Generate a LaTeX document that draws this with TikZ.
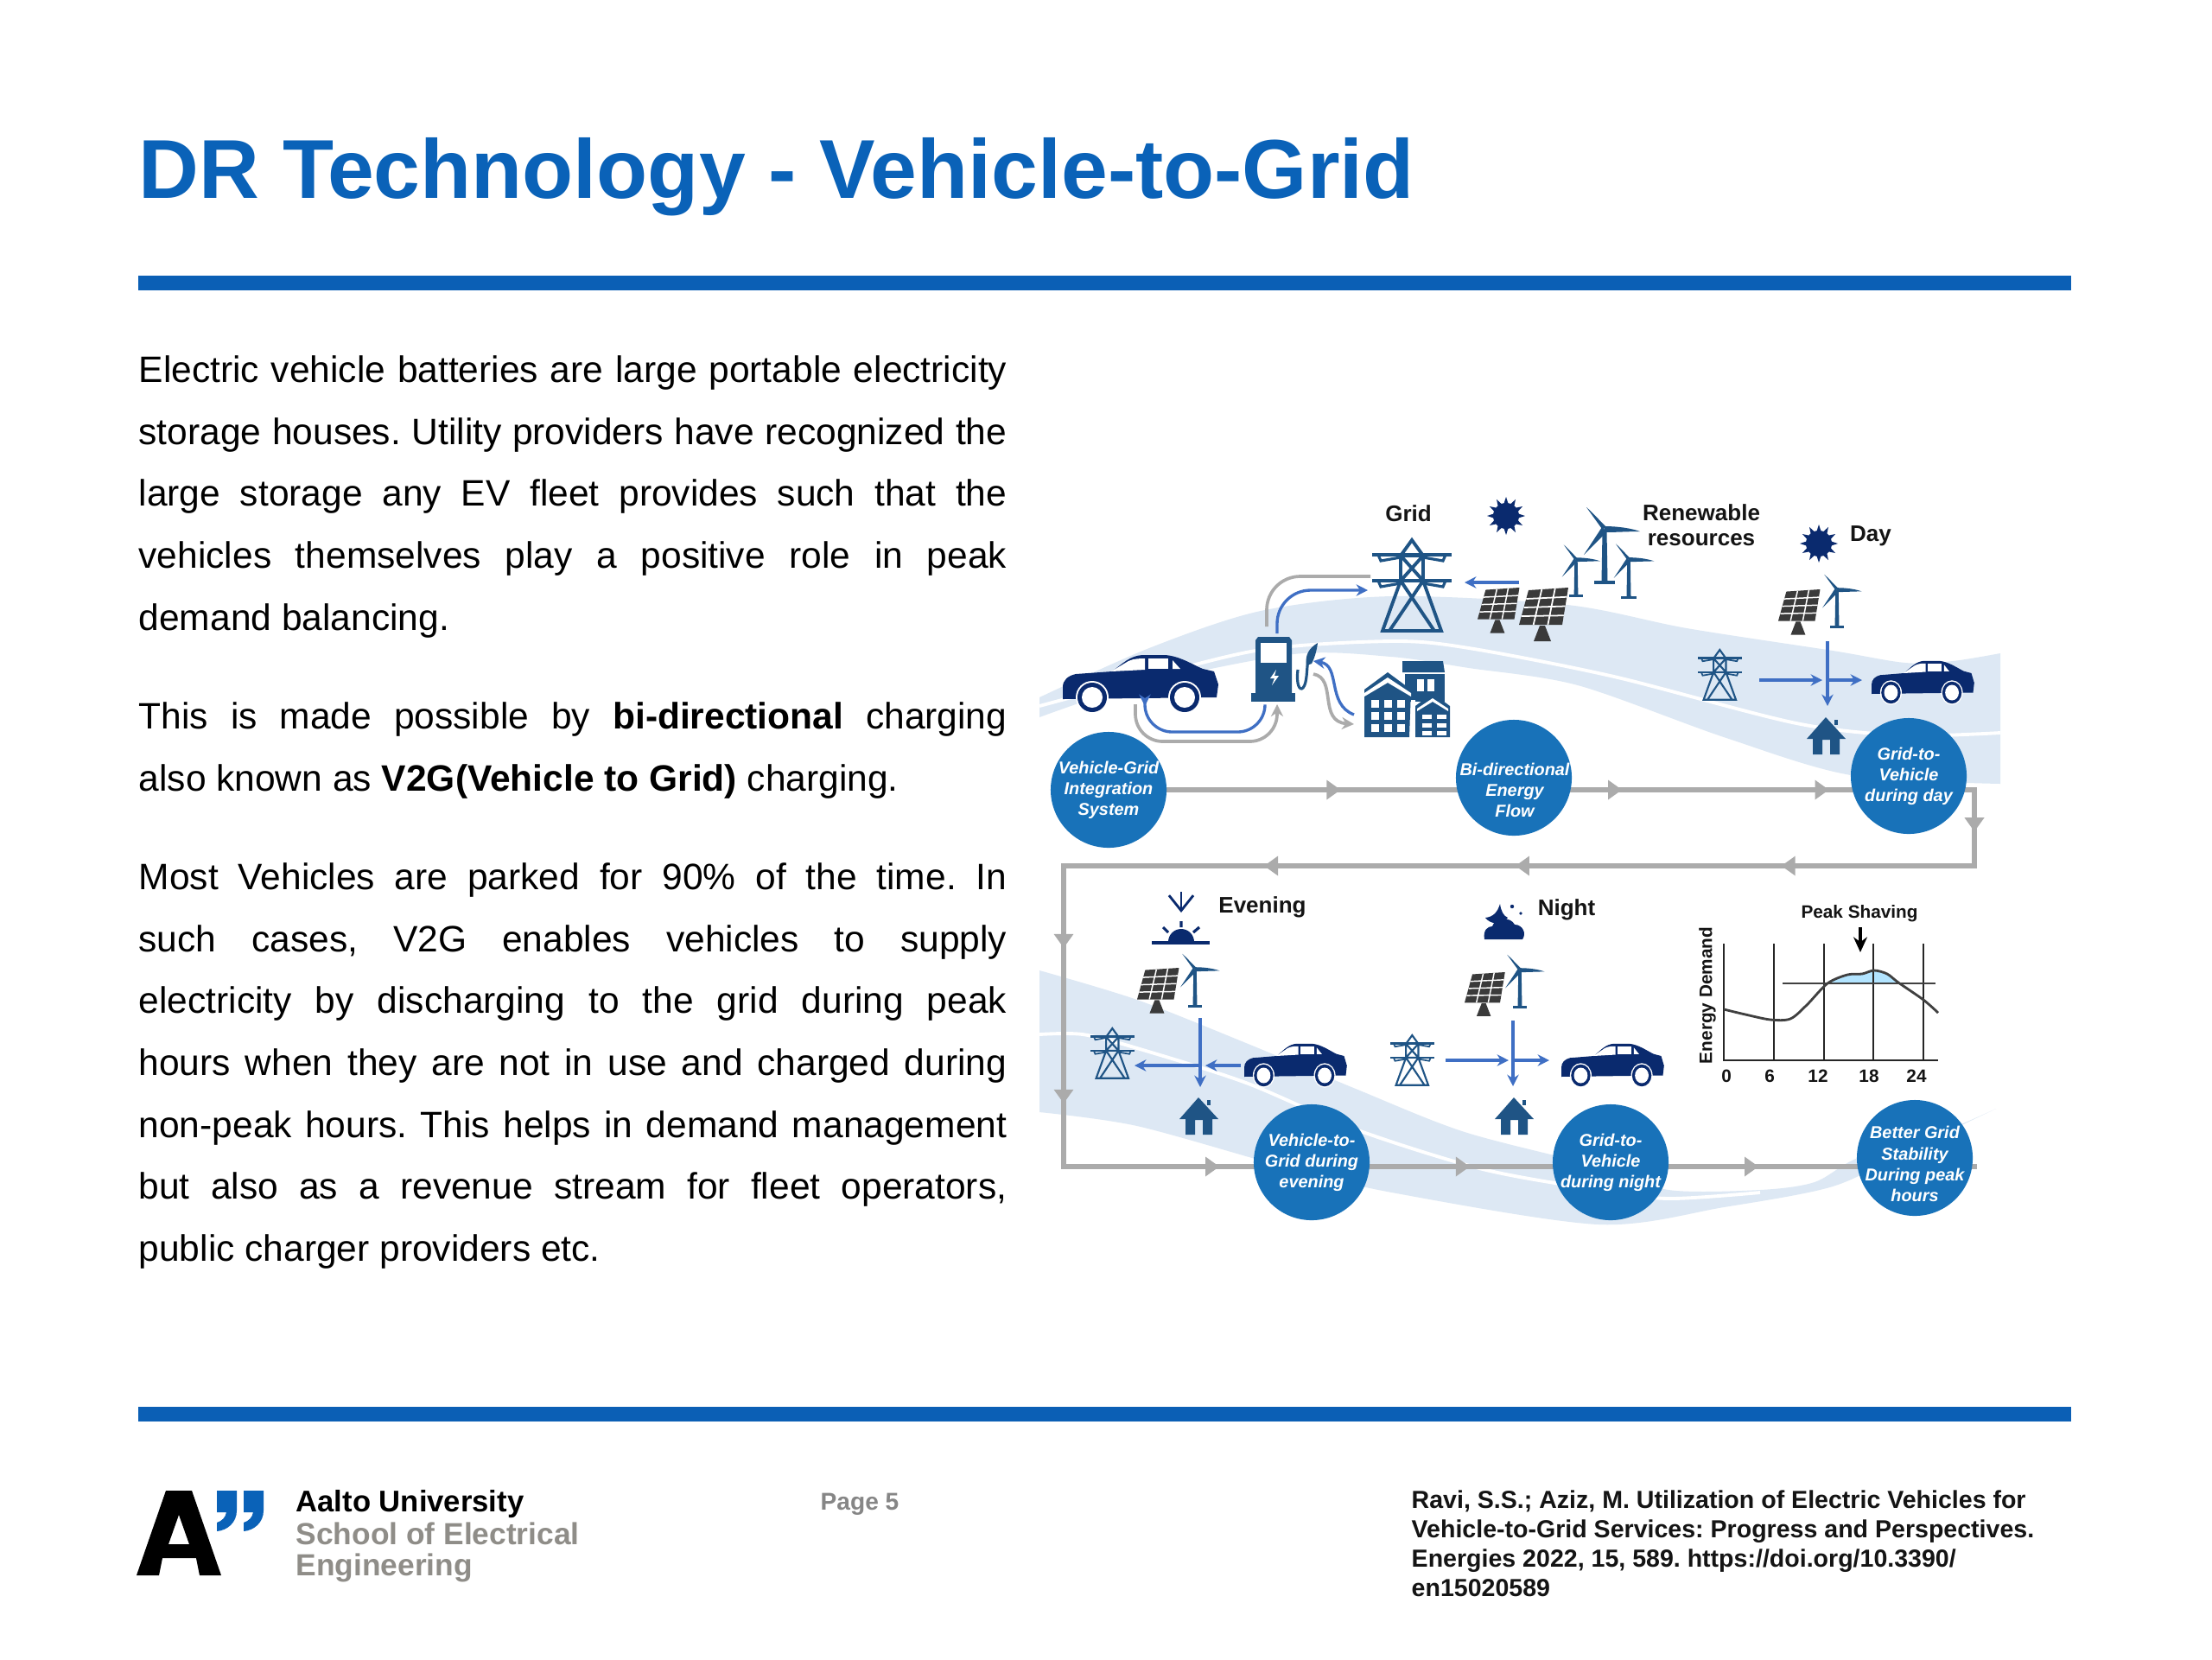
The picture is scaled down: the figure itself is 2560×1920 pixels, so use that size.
\documentclass[tikz,border=0pt]{standalone}
\usepackage{fontspec}
\setmainfont{Liberation Sans}
\usetikzlibrary{arrows.meta,decorations.markings,backgrounds}
\definecolor{titleblue}{HTML}{0A62B8}
\definecolor{rulecol}{HTML}{0B5FB5}
\definecolor{band}{HTML}{DDE8F4}
\definecolor{circ}{HTML}{1872B9}
\definecolor{navy}{HTML}{0A2A6E}
\definecolor{steel}{HTML}{1F5485}
\definecolor{panelc}{HTML}{3A3A3A}
\definecolor{flow}{HTML}{3F6FC4}
\definecolor{gline}{HTML}{ABABAB}
\definecolor{softgray}{HTML}{8F8D88}
\definecolor{ink}{HTML}{141414}
\tikzset{
 x=0.01cm,y=-0.01cm,
 stepfont/.style={font=\fontsize{5.65pt}{6.85pt}\selectfont\bfseries\itshape},
 stepc/.style={circle,fill=circ,text=white,minimum size=1.34cm,inner sep=-20pt,align=center,stepfont},
 stepdisc/.style={circle,fill=circ,minimum size=1.34cm,inner sep=0pt},
 steptxt/.style={inner sep=0pt,text=white,align=center,stepfont},
 lab/.style={inner sep=0pt,text=ink,font=\fontsize{7.4pt}{9pt}\selectfont\bfseries},
 para/.style={inner sep=0pt,anchor=north west,text width=10.04cm,align=justify,text=black,
   font=\fontsize{12.09pt}{20.38pt}\selectfont\frenchspacing},
 gl/.style={draw=gline,line width=1.6pt,line cap=rect},
 gtip/.style={postaction={decorate,decoration={markings,mark=at position #1 with {\arrow[draw=gline,fill=gline]{Triangle[length=4.6pt,width=6.2pt]}}}}},
 fl/.style={draw=flow,line width=.95pt,-{Stealth[length=3.8pt,width=3.8pt]}},
 gra/.style={draw=gline,line width=1.05pt},
 blab/.style={inner sep=0pt,text=ink,font=\fontsize{5.9pt}{7pt}\selectfont\bfseries},
}
\newcommand\carIcon[3]{\begin{scope}[shift={(#1,#2)},scale=#3,yscale={1+(1-#3)*0.4}]
 \fill[navy] (0,38) .. controls (0,30) and (6,25) .. (15,23) -- (57,20) .. controls (70,10) and (78,2) .. (92,1) -- (118,1) .. controls (135,2) and (150,12) .. (162,17) -- (175,20) -- (180,35) -- (178,50) -- (0,52) -- cycle;
 \fill[white] (56,20) -- (76,8) .. controls (82,5) and (90,5) .. (95,5) -- (95,18) -- cycle;
 \fill[white] (99,5) -- (122,5) -- (122,17) -- (99,17) -- cycle;
 \fill[white] (127,7) -- (136,17) -- (127,17) -- cycle;
 \foreach \cx in {34,141}{
  \fill[white] (\cx,50) circle[radius=19];
  \fill[navy] (\cx,50) circle[radius=17];
  \fill[white] (\cx,50) circle[radius=12];
 }
\end{scope}}
\newcommand\towerIcon[3]{\begin{scope}[shift={(#1,#2)},scale=#3]
 \draw[steel,line width={#3*1.1pt},line join=miter]
  (12,105) -- (33,47) -- (33,18) -- (46,0) -- (59,18) -- (59,47) -- (80,105) -- cycle
  (33,18) -- (59,47) (59,18) -- (33,47)
  (33,47) -- (72,105) (59,47) -- (20,105) (33,47) -- (59,47) (33,18) -- (59,18);
 \draw[steel,line width={#3*1.3pt}] (0,17) -- (92,17) (0,47) -- (92,47);
 \draw[steel,line width={#3*0.9pt}] (7,17) -- (10,24) -- (33,20) (85,17) -- (82,24) -- (59,20)
  (7,47) -- (10,54) -- (33,50) (85,47) -- (82,54) -- (59,50);
\end{scope}}
\newcommand\panelIcon[3]{\begin{scope}[shift={(#1,#2)},scale=#3]
 \fill[panelc] (11,3) -- (57,0) -- (50,43) -- (0,43) -- cycle;
 \fill[panelc] (24,44) -- (30,44) -- (37,62) -- (17,62) -- cycle;
 \draw[white,line width={#3*0.5pt}]
  ({11+46*.333},{3-3*.333}) -- ({50*.333},43) ({11+46*.667},{3-3*.667}) -- ({50*.667},43)
  ({11-11*.25},{3+40*.25}) -- ({57-7*.25},{43*.25}) ({11-11*.5},{3+40*.5}) -- ({57-7*.5},{43*.5})
  ({11-11*.75},{3+40*.75}) -- ({57-7*.75},{43*.75});
\end{scope}}
\newcommand\turbineIcon[3]{\begin{scope}[shift={(#1,#2)},scale=#3]
 \fill[steel] (-3,-1) -- (-21,-26) .. controls (-14,-20) and (-7,-12) .. (3,-2) -- cycle;
 \fill[steel] (0,-4) .. controls (14,-4) and (30,-2) .. (41,2) .. controls (28,2) and (12,3) .. (0,3) -- cycle;
 \fill[steel] (-3,-3) -- (3,2) -- (-8,13) -- (-24,29) -- cycle;
 \fill[steel] (-2.5,2) -- (2.5,2) -- (3.5,60) -- (-3.5,60) -- cycle;
 \fill[steel] (-12,59) rectangle (12,63);
\end{scope}}
\newcommand\sunIcon[2]{\begin{scope}[shift={(#1,#2)}]
 \fill[navy] (0,0) circle[radius=15];
 \foreach \a in {0,30,...,330}{
  \fill[navy] ({\a-11}:14) -- (\a:22) -- ({\a+11}:14) -- cycle;
 }
\end{scope}}
\newcommand\houseIcon[2]{\begin{scope}[shift={(#1,#2)}]
 \fill[steel] (22,0) -- (45,25) -- (38,25) -- (38,43) -- (27,43) -- (27,26) -- (18,26) -- (18,43) -- (7,43) -- (7,25) -- (0,25) -- cycle;
 \fill[steel] (32,3) rectangle (36,9);
\end{scope}}
\begin{document}
\begin{tikzpicture}
\useasboundingbox (0,0) rectangle (2560,1920);
% ---------- header, rules, body
\node[inner sep=0pt,anchor=base west,text=titleblue,font=\fontsize{27.5pt}{30pt}\selectfont\bfseries] (title) at (160,229) {DR Technology - Vehicle-to-Grid};
\fill[rulecol] (160,319) rectangle (2397,336);
\fill[rulecol] (160,1628) rectangle (2397,1645);
\node[para] (p1) at (160,411) {Electric vehicle batteries are large portable electricity\linebreak storage houses. Utility providers have recognized the\linebreak large storage any EV fleet provides such that the\linebreak vehicles themselves play a positive role in peak\linebreak demand balancing.};
\node[para] (p2) at (160,812) {This is made possible by \textbf{bi-directional} charging\linebreak also known as \textbf{V2G(Vehicle to Grid)} charging.};
\node[para] (p3) at (160,998) {Most Vehicles are parked for 90\% of the time. In\linebreak such cases, V2G enables vehicles to supply\linebreak electricity by discharging to the grid during peak\linebreak hours when they are not in use and charged during\linebreak non-peak hours. This helps in demand management\linebreak but also as a revenue stream for fleet operators,\linebreak public charger providers etc.};
% ---------- step circles
\node[stepc] (c1) at (1283,914) {Vehicle-Grid\\Integration\\System};
\node[stepdisc] (c2) at (1752,900) {};
\node[steptxt] (c2t) at (1753,914) {Bi-directional\\Energy\\Flow};
\node[stepc] (c3) at (2209,898) {Grid-to-\\Vehicle\\during day};
\node[stepc] (c4) at (1518,1345) {Vehicle-to-\\Grid during\\evening};
\node[stepc] (c5) at (1864,1345) {Grid-to-\\Vehicle\\during night};
\node[stepdisc] (c6) at (2216,1340) {};
\node[steptxt] (c6t) at (2216,1347) {Better Grid\\Stability\\During peak\\hours};
\coordinate (k1) at (2285,914);
\coordinate (k2) at (2285,1002);
\coordinate (k3) at (1231,1002);
\coordinate (k4) at (1231,1350);
\coordinate (k5) at (2285,1350);
\begin{scope}[on background layer]
 \fill[white] (0,0) rectangle (2560,1920);
 % bands
 \fill[band] plot[smooth] coordinates {(1203,807) (1330,750) (1459,707) (1611,690) (1814,700) (1952,727) (2121,753) (2205,767) (2260,765) (2315,756)}
   -- plot[smooth] coordinates {(2315,907) (2142,897) (1995,853) (1826,793) (1700,773) (1610,760) (1497,757) (1316,793) (1203,830)} -- cycle;
 \draw[white,line width=1.1pt] plot[smooth] coordinates {(1203,817) (1316,787) (1459,752) (1611,742) (1700,750) (1868,783) (2079,837) (2205,851) (2315,848)};
 \fill[band] plot[smooth] coordinates {(1203,1123) (1316,1157) (1442,1207) (1569,1260) (1695,1310) (1850,1350) (1931,1377) (2037,1377) (2100,1368) (2150,1340) (2247,1310) (2310,1283)}
   -- plot[smooth] coordinates {(2310,1283) (2205,1333) (2121,1373) (1995,1397) (1850,1417) (1611,1380) (1485,1350) (1316,1303) (1203,1287)} -- cycle;
 \draw[white,line width=1.1pt] plot[smooth] coordinates {(1203,1197) (1253,1197) (1316,1213) (1442,1253) (1569,1307) (1716,1353) (1850,1377) (1931,1387) (2037,1380)};
 % gray cycle
 \draw[gl,gtip=.268,gtip=.593,gtip=.832] (c1.center) -- (k1);
 \draw[gl,gtip=.55] (k1) -- (k2);
 \draw[gl,gtip=.212,gtip=.504,gtip=.78] (k2) -- (k3);
 \draw[gl,gtip=.273,gtip=.79] (k3) -- (k4);
 \draw[gl,gtip=.171,gtip=.446,gtip=.763] (k4) -- (k5);
\end{scope}
% ---------- top-left scene
\carIcon{1230}{757}{1}
\towerIcon{1588}{625}{1}
\panelIcon{1710}{680}{.85}
\panelIcon{1758}{680}{1}
\turbineIcon{1857}{613}{1}
\turbineIcon{1824}{648}{.68}
\turbineIcon{1885}{648}{.72}
\sunIcon{1743}{597}
% charger
\fill[steel] (1456,737) -- (1492,737) -- (1495,741) -- (1495,803) -- (1453,803) -- (1453,741) -- cycle;
\fill[steel] (1448,802) rectangle (1499,812);
\fill[white] (1459,744) rectangle (1489,767);
\fill[white] (1477,775) -- (1470,785) -- (1475,785) -- (1472,793) -- (1480,782) -- (1475,782) -- cycle;
\draw[steel,line width=.9pt] (1502,775) .. controls (1500,792) and (1504,800) .. (1508,796) .. controls (1513,790) and (1512,775) .. (1514,762);
\fill[steel] (1512,770) .. controls (1510,758) and (1515,750) .. (1525,744) .. controls (1524,752) and (1522,760) .. (1518,768) -- cycle;
% buildings
\fill[steel] (1623,778) -- (1623,765) -- (1630,765) -- (1670,765) -- (1672,778) -- cycle;
\fill[steel] (1626,780) rectangle (1672,812);
\fill[white] (1640,786) rectangle (1648,800);
\fill[white] (1652,786) rectangle (1660,800);
\fill[steel] (1579,798) -- (1606,778) -- (1633,798) -- (1631,853) -- (1579,853) -- cycle;
\fill[white] (1579,802) -- (1606,784) -- (1633,802) -- (1633,806) -- (1606,790) -- (1579,806) -- cycle;
\foreach \wy in {810,824,838}{\foreach \wx in {1587,1602,1617}{
  \fill[white] (\wx,\wy) rectangle ++(9,9);}}
\fill[white] (1633,810) rectangle (1638,856);
\fill[steel] (1638,817) -- (1658,802) -- (1678,817) -- (1678,853) -- (1638,853) -- cycle;
\fill[white] (1640,820) -- (1658,808) -- (1676,820) -- (1676,823) -- (1658,812) -- (1640,823) -- cycle;
\foreach \wy in {827,837,846}{\foreach \wx in {1646,1663}{
  \fill[white] (\wx,\wy) rectangle ++(11,5);}}
% flows top-left
\coordinate (chgB) at (1478,733); \coordinate (twB) at (1583,683);
\coordinate (chgG) at (1466,725); \coordinate (twG) at (1586,667);
\coordinate (renE) at (1758,674); \coordinate (twE) at (1695,674);
\coordinate (chB2) at (1464,817); \coordinate (carB) at (1325,817);
\coordinate (carG) at (1314,815); \coordinate (chG2) at (1478,815);
\coordinate (bldB) at (1567,827); \coordinate (hoseB) at (1520,765);
\coordinate (hoseG) at (1520,780); \coordinate (bldG) at (1567,838);
\coordinate (bmB) at (1325,847); \coordinate (bmB2) at (1464,847);
\coordinate (bmG) at (1314,858); \coordinate (bmG2) at (1478,858);
\draw[gra,rounded corners=11pt] (chgG) |- (twG);
\draw[fl,rounded corners=11pt] (chgB) |- (twB);
\draw[fl] (renE) -- (twE);
\draw[gra,-{Stealth[length=4pt,width=4pt]},rounded corners=9pt] (carG) -- (bmG) -- (bmG2) -- (chG2);
\draw[fl,rounded corners=9pt] (chB2) -- (bmB2) -- (bmB) -- (carB);
\draw[fl] (bldB) .. controls (1535,815) and (1552,770) .. (hoseB);
\draw[gra,-{Stealth[length=4pt,width=4pt]}] (hoseG) .. controls (1548,785) and (1525,835) .. (bldG);
% ---------- day
\sunIcon{2105}{629}
\panelIcon{2058}{682}{.85}
\turbineIcon{2126}{683}{.7}
\towerIcon{1965}{752}{.55}
\carIcon{2166}{764}{.66}
\houseIcon{2091}{830}
\coordinate (dW) at (2036,787); \coordinate (dM) at (2109,787); \coordinate (dE) at (2155,787);
\coordinate (dN) at (2115,742); \coordinate (dS) at (2115,817); \coordinate (dC) at (2116,787);
\draw[fl] (dW) -- (dM); \draw[fl] (dC) -- (dE); \draw[fl] (dN) -- (dS);
% ---------- evening
\panelIcon{1316}{1120}{.85}
\turbineIcon{1383}{1122}{.7}
\towerIcon{1262}{1190}{.55}
\carIcon{1440}{1207}{.66}
\houseIcon{1365}{1270}
\fill[navy] (1352,1090) arc[start angle=180,end angle=360,radius=15] -- cycle;
\draw[navy,line width=.9pt] (1333,1091) -- (1400,1091);
\draw[navy,line width=.9pt] (1367,1066) -- (1367,1073) (1346,1073) -- (1352,1079) (1388,1073) -- (1381,1079);
\coordinate (sunTop) at (1367,1032); \coordinate (sunDn) at (1367,1056);
\draw[navy,line width=.8pt,-{Straight Barb[length=5pt,width=8pt]}] (sunTop) -- (sunDn);
\coordinate (eN) at (1389,1178); \coordinate (eS) at (1389,1258);
\coordinate (eCar) at (1436,1233); \coordinate (eMid) at (1395,1233);
\coordinate (eC) at (1388,1233); \coordinate (eW) at (1313,1233);
\draw[fl,line width=1.3pt] (eN) -- (eS);
\draw[fl,line width=1.3pt] (eCar) -- (eMid);
\draw[fl,line width=1.3pt] (eC) -- (eW);
% ---------- night
\fill[navy] (1718,1087) .. controls (1716,1076) and (1722,1072) .. (1727,1072) .. controls (1730,1062) and (1748,1060) .. (1753,1070) .. controls (1762,1070) and (1767,1080) .. (1762,1087) -- cycle;
\fill[navy] (1736,1046) .. controls (1733,1056) and (1728,1061) .. (1719,1062) .. controls (1725,1070) and (1738,1071) .. (1745,1062) .. controls (1740,1060) and (1737,1054) .. (1736,1046) -- cycle;
\fill[navy] (1750,1049) circle[radius=2.2] (1760,1057) circle[radius=1.8];
\panelIcon{1695}{1125}{.82}
\turbineIcon{1759}{1123}{.7}
\towerIcon{1609}{1198}{.55}
\carIcon{1807}{1207}{.66}
\houseIcon{1730}{1270}
\coordinate (nW) at (1673,1227); \coordinate (nM) at (1746,1227); \coordinate (nC) at (1752,1227); \coordinate (nE) at (1793,1227);
\coordinate (nN) at (1751,1181); \coordinate (nS) at (1751,1257);
\draw[fl] (nW) -- (nM); \draw[fl] (nC) -- (nE); \draw[fl] (nN) -- (nS);
% ---------- chart
\fill[blue!35!cyan!30!white] plot[smooth] coordinates {(2115,1138) (2138,1128) (2155,1127) (2169,1123) (2184,1127) (2197,1137)} -- cycle;
\draw[black!85,line width=.8pt] (1995,1092) -- (1995,1227) -- (2243,1227)
  (2053,1092) -- (2053,1227) (2111,1092) -- (2111,1227) (2168,1092) -- (2168,1227) (2226,1092) -- (2226,1227);
\draw[black!75,line width=.8pt] (2063,1138) -- (2240,1138);
\draw[black!75,line width=.8pt] plot[smooth] coordinates {(1995,1168) (2020,1174) (2049,1180) (2072,1179) (2091,1163) (2115,1138) (2138,1128) (2155,1127) (2169,1123) (2184,1127) (2197,1137) (2226,1157) (2243,1172)};
\coordinate (pkA) at (2153,1073); \coordinate (pkB) at (2153,1102);
\draw[black,line width=.9pt,-{Stealth[length=5pt,width=4.5pt]}] (pkA) -- (pkB);
\node[blab] (peak) at (2152,1057) {Peak Shaving};
\node[blab,rotate=90] (yl) at (1976,1152) {Energy Demand};
\foreach \tx/\tl in {1998/0,2048/6,2104/12,2163/18,2218/24}{
 \node[blab] (t\tl) at (\tx,1245) {\tl};}
% ---------- labels
\node[lab] (gridl) at (1630,594) {Grid};
\node[lab] (ren1) at (1969,593) {Renewable};
\node[lab] (ren2) at (1969,625) {resources};
\node[lab] (day) at (2165,620) {Day};
\node[lab] (eve) at (1461,1050) {Evening};
\node[lab] (nig) at (1813,1053) {Night};
% ---------- footer
\fill[black] (192,1725) -- (222,1725) -- (256,1823) -- (231,1823) -- (227,1803) -- (188,1803) -- (184,1823) -- (158,1823) -- cycle
  (207,1753) -- (195,1787) -- (219,1787) -- cycle;
\foreach \qx in {251,282}{
 \fill[titleblue] (\qx,1725) -- ({\qx+23},1725) -- ({\qx+23},1748) .. controls ({\qx+23},1762) and ({\qx+12},1771) .. (\qx,1772) -- (\qx,1762) .. controls ({\qx+6},1760) and ({\qx+10},1756) .. ({\qx+11},1750) -- (\qx,1750) -- cycle;}
\node[inner sep=0pt,anchor=west,text=black,font=\fontsize{9.85pt}{11pt}\selectfont\bfseries] (au) at (342,1741) {Aalto University};
\node[inner sep=0pt,anchor=west,text=softgray,font=\fontsize{10.05pt}{11pt}\selectfont\bfseries] (se) at (342,1775) {School of Electrical};
\node[inner sep=0pt,anchor=west,text=softgray,font=\fontsize{10.05pt}{11pt}\selectfont\bfseries] (en) at (342,1814) {Engineering};
\node[inner sep=0pt,text=gray!95,font=\fontsize{8pt}{10pt}\selectfont\bfseries] (pg) at (995,1741) {Page 5};
\node[inner sep=0pt,anchor=north west,align=left,text=ink,font=\fontsize{8.12pt}{9.67pt}\selectfont\bfseries\frenchspacing] (ref) at (1633,1724) {Ravi, S.S.; Aziz, M. Utilization of Electric Vehicles for\\Vehicle-to-Grid Services: Progress and Perspectives.\\Energies 2022, 15, 589. https://doi.org/10.3390/\\en15020589};
\end{tikzpicture}
\end{document}
